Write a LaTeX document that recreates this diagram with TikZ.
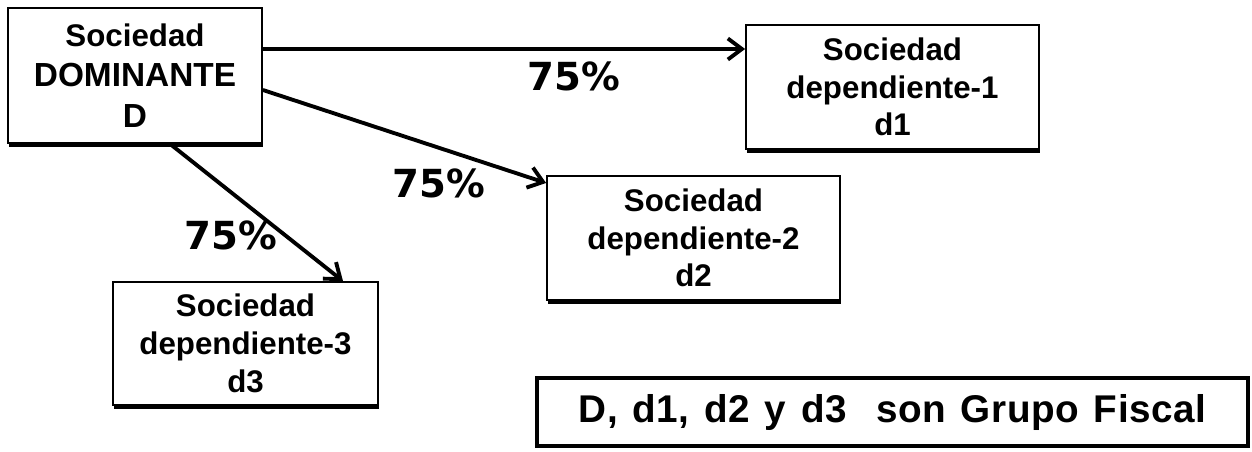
\documentclass[tikz,border=0pt]{standalone}
\usepackage{fontspec}
\setmainfont{Liberation Sans}
\newfontfamily\pctfont{DejaVu Sans}
\newfontfamily\gffont{Liberation Sans}[LetterSpace=1.5,WordSpace=1.3]
\usetikzlibrary{arrows.meta,shadows}

\begin{document}
\begin{tikzpicture}[
  sbox/.style={draw,line width=1pt,fill=white,inner sep=0pt,align=center,
               drop shadow={shadow xshift=0.6pt,shadow yshift=-2.4pt,fill=black,opacity=1},
               font=\bfseries\fontsize{17.8}{21.5}\selectfont},
  gbox/.style={draw,line width=2.6pt,inner sep=0pt,minimum width=14.22cm,minimum height=1.36cm,
               font=\gffont\bfseries\fontsize{22}{26}\selectfont},
  link/.style={-{Straight Barb[length=8pt,width=12pt]},line width=2.2pt},
  pct/.style={font=\pctfont\bfseries\fontsize{22}{26}\selectfont},
]
\useasboundingbox (0,0) rectangle (25.04,-9.04);
\node[sbox,minimum width=5.08cm,minimum height=2.70cm,font=\bfseries\fontsize{19}{23}\selectfont] (dom) at (2.70,-1.51)
  {{\fontsize{17.8}{23}\selectfont Sociedad}\\DOMINANTE\\D};
\node[sbox,minimum width=5.86cm,minimum height=2.48cm] (d1) at (17.85,-1.74) {Sociedad\\dependiente-1\\d1};
\node[sbox,minimum width=5.86cm,minimum height=2.48cm] (d2) at (13.87,-4.76) {Sociedad\\dependiente-2\\d2};
\node[sbox,minimum width=5.30cm,minimum height=2.46cm] (d3) at (4.91,-6.87) {Sociedad\\dependiente-3\\d3};
\node[gbox] (grupo) at (17.85,-8.24) {D, d1, d2 y d3\ \ son Grupo Fiscal};
\draw[link] ([yshift=0.53cm]dom.east) -- ([yshift=0.76cm]d1.west) node[pct,pos=0.645,yshift=-0.54cm] (p1) {75\%};
\draw[link] ([yshift=-0.29cm]dom.east) -- ([yshift=1.1cm]d2.west) node[pct,pos=0.62,yshift=-0.71cm] (p2) {75\%};
\draw[link] ([xshift=0.7cm]dom.south) -- ([xshift=1.95cm]d3.north) node[pct,pos=0.6,xshift=-0.86cm,yshift=-0.19cm] (p3) {75\%};
\end{tikzpicture}
\end{document}
